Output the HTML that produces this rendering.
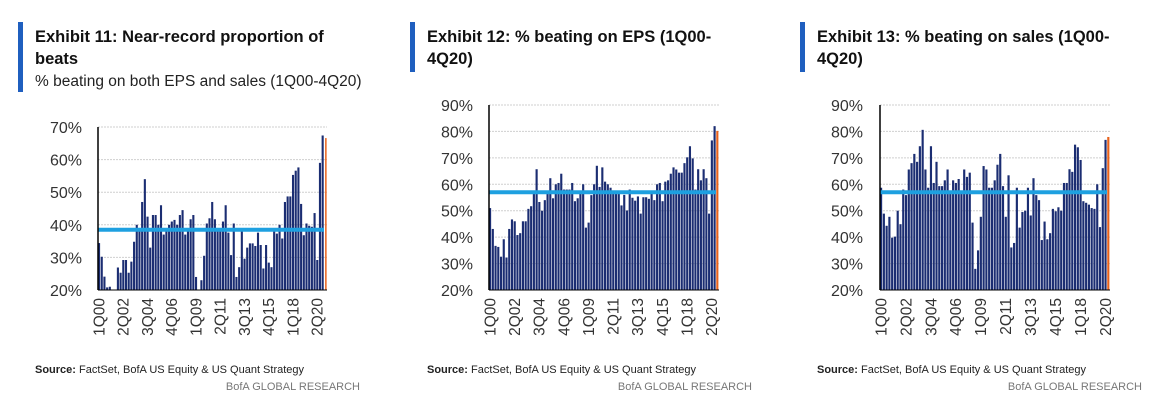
<!DOCTYPE html>
<html><head><meta charset="utf-8"><style>
body{margin:0;background:#fff;font-family:"Liberation Sans",sans-serif;}
svg{display:block}
</style></head><body>
<svg id="s" width="1156" height="413" viewBox="0 0 1156 413"></svg>
<script>
const xLabels=["1Q00","2Q02","3Q04","4Q06","1Q09","2Q11","3Q13","4Q15","1Q18","2Q20"];
const beatsBoth=[34.4,30.2,24.1,20.8,21,20,20,26.9,25.3,29.2,29.2,25.3,28.7,34.8,40,39,47,54,42.5,33,43,43,40,46,37,39,40,41,41.5,40,43,44.5,37,39,41.7,43,24,20,23,30.5,40.4,42,47,41.7,38,39,41,46,37.6,30.7,40.4,24,27,39,29.6,33,34.3,34.3,33.5,37.6,33.8,26.6,33.8,28.4,27,38,37.3,40,35.8,47,48.7,48.7,55.3,56.6,57.6,46.4,36.8,40.4,39.7,39.4,43.6,29.2,59,67.4,66.6];
const beatsEps=[51,43.1,36.7,36.3,32.6,39.2,32.3,43.1,46.7,46,40.8,41.5,46,46,50.7,51.7,56.4,65.7,53.3,50,54,56.4,62.3,54.7,60,60.5,64,58,58,58,60.5,53.6,54.7,56.6,60,43.6,45.5,55.9,60,67,59,66.4,61,60,58.7,56.4,56.4,56.4,52,56,50.1,58,54.9,53.8,55.4,48.9,55.1,55.1,54.5,56.6,54,60,60.5,53.6,61,61.5,64,66.4,65.6,64.4,64.4,68,70.2,74.4,69.8,58,65.7,61.5,65.7,62.3,48.9,76.6,82,80.2];
const beatsSales=[58.7,48.9,44.3,47.7,39.8,40.2,50,44.9,58,55.9,65.6,68,71.5,68.5,74.4,80.6,65.6,58.7,74.4,60.5,68.5,59.3,59.3,61.5,65.6,57.4,61.5,60.5,62,57.4,65.6,62.8,64.4,45.5,28,35,47.7,66.9,65.6,58.7,58.7,61.5,67.4,71.5,59.3,47.7,63.4,36.1,37.8,58.7,43.6,49.5,50,58.7,48.2,62.3,55.9,54,38.9,45.9,39.2,41.5,50.7,49.8,51.3,50,60.5,60.5,65.7,64.7,75,74,69.2,53.6,53,52.3,51,50.7,60,43.8,66.1,76.8,77.9];
const averages=[38.5,57,57];

const NS="http://www.w3.org/2000/svg";
const svg=document.getElementById('s');
function mk(tag,attrs,parent,txt){const e=document.createElementNS(NS,tag);for(const k in attrs)e.setAttribute(k,attrs[k]);if(txt!==undefined)e.textContent=txt;(parent||svg).appendChild(e);return e;}

const panels=[
 {ox:0,title:["Exhibit 11: Near-record proportion of","beats"],sub:"% beating on both EPS and sales (1Q00-4Q20)",data:beatsBoth,avg:averages[0],x0:98,x1:327,yMin:20,yMax:70,yTop:127,yBot:290,labR:82,orangeThin:true},
 {ox:392,title:["Exhibit 12: % beating on EPS (1Q00-","4Q20)"],sub:null,data:beatsEps,avg:averages[1],x0:489,x1:719,yMin:20,yMax:90,yTop:105,yBot:290,labR:473},
 {ox:782,title:["Exhibit 13: % beating on sales (1Q00-","4Q20)"],sub:null,data:beatsSales,avg:averages[2],x0:880,x1:1110,yMin:20,yMax:90,yTop:105,yBot:290,labR:863}
];
panels.forEach((p,pi)=>{
 const g=mk('g',{});
 
 
 const acc=mk('rect',{x:p.ox+18,y:22,width:5,height:p.sub?70:50,fill:'#1f5fbf'},g);
 
 p.title.forEach((t,i)=>{const e=mk('text',{x:p.ox+35,y:42+i*22,'font-size':16.5,'font-weight':'bold',fill:'#111'},g,t);
  });
 if(p.sub){const e=mk('text',{x:p.ox+35,y:86,'font-size':15.5,fill:'#222'},g,p.sub);
  }
 const yS=v=>p.yBot-(v-p.yMin)/(p.yMax-p.yMin)*(p.yBot-p.yTop);
 const n=p.data.length;const slot=(p.x1-p.x0)/n;const xS=i=>p.x0+i*slot;
 for(let v=p.yMin;v<=p.yMax;v+=10){
  if(v>p.yMin){const gl=mk('line',{x1:p.x0,x2:p.x1,y1:yS(v),y2:yS(v),stroke:'#cfcfcf','stroke-dasharray':'2,1'},g);
   }
  const t=mk('text',{x:p.labR,y:yS(v)+6,'font-size':16,'text-anchor':'end',fill:'#333'},g,v+'%');
  
 }
 p.data.forEach((v,i)=>{
  const last=i===n-1;
  const w=last&&p.orangeThin?1.5:slot*0.78;
  const r=mk('rect',{x:xS(i)+(last&&p.orangeThin?slot*0.3:0),y:yS(v),width:w,height:p.yBot-yS(v),fill:last?'#e8621c':'#1b2d72'},g);
  
 });
 const al=mk('line',{x1:p.x0,x2:p.x1-3,y1:yS(p.avg),y2:yS(p.avg),stroke:'#1ea0e0','stroke-width':4},g);
 
 const ax=mk('line',{x1:p.x0,x2:p.x0,y1:p.yTop,y2:p.yBot,stroke:'#000','stroke-width':1.5},g);
 
 const bx=mk('line',{x1:p.x0,x2:p.x1,y1:p.yBot,y2:p.yBot,stroke:'#000','stroke-width':1},g);
 
 xLabels.forEach((l,k)=>{const cx=xS(k*9)+slot/2+5;
  const t=mk('text',{x:0,y:0,'font-size':15.5,'text-anchor':'end',fill:'#333',transform:`translate(${cx},${p.yBot+8}) rotate(-90)`},g,l);
  });
 const s=mk('text',{x:p.ox+35,y:373,'font-size':11,fill:'#222'},g);
 
 mk('tspan',{'font-weight':'bold'},s,'Source:');mk('tspan',{},s,'  FactSet, BofA US Equity & US Quant Strategy');
 const b=mk('text',{x:p.ox+360,y:390,'font-size':11,'text-anchor':'end',fill:'#777'},g,'BofA GLOBAL RESEARCH');
 
});
</script>
</body></html>
